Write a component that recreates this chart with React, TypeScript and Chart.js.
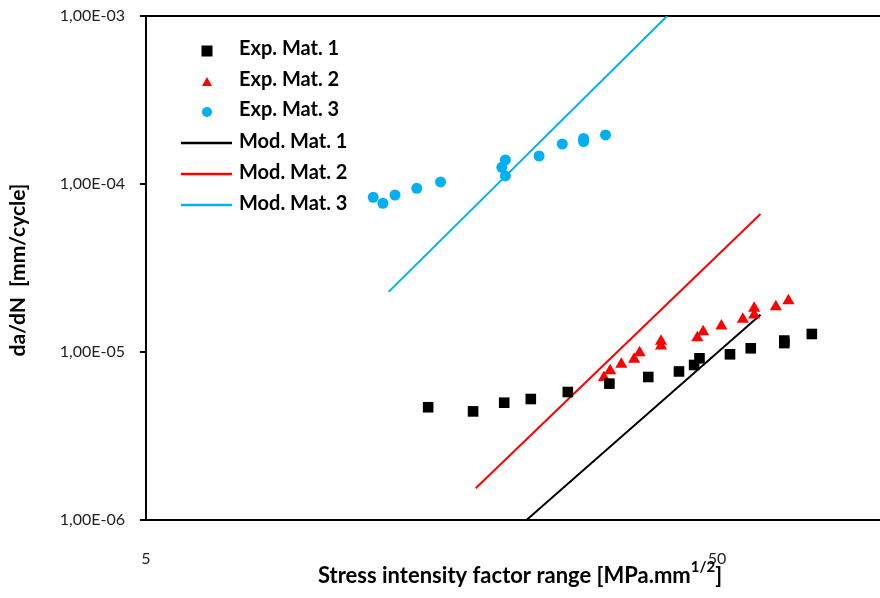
import React, { useEffect, useRef } from 'react';
import { Chart, registerables } from 'chart.js';

Chart.register(...registerables);

// ---- Data ----
const mat1X = [15.6, 18.7, 21.2, 23.6, 27.4, 32.4, 37.9, 42.9, 45.6, 46.6, 52.7, 57.3, 65.6, 65.6, 73.3];
const mat1Y = [4.69e-6, 4.43e-6, 4.99e-6, 5.25e-6, 5.78e-6, 6.48e-6, 7.1e-6, 7.66e-6, 8.37e-6, 9.17e-6, 9.69e-6, 1.052e-5, 1.13e-5, 1.17e-5, 1.28e-5];

const mat2X = [31.7, 32.5, 34.0, 35.8, 36.6, 39.9, 39.9, 46.2, 47.3, 50.9, 55.5, 58.1, 58.1, 63.4, 66.7];
const mat2Y = [7.05e-6, 7.74e-6, 8.45e-6, 9.05e-6, 9.9e-6, 1.086e-5, 1.158e-5, 1.216e-5, 1.32e-5, 1.428e-5, 1.566e-5, 1.66e-5, 1.82e-5, 1.86e-5, 2.02e-5];

const mat3X = [12.5, 13.0, 13.65, 14.9, 16.4, 21.0, 21.3, 21.3, 24.4, 26.8, 29.2, 29.2, 31.9];
const mat3Y = [8.33e-5, 7.68e-5, 8.6e-5, 9.43e-5, 1.028e-4, 1.257e-4, 1.39e-4, 1.117e-4, 1.468e-4, 1.73e-4, 1.866e-4, 1.79e-4, 1.96e-4];

const mod1X = [23.2, 59.6];
const mod1Y = [1.0e-6, 1.667e-5];
const mod2X = [18.9, 59.6];
const mod2Y = [1.545e-6, 6.63e-5];
const mod3X = [13.3, 40.9];
const mod3Y = [2.28e-5, 1.0e-3];

const seriesNames = ['Exp. Mat. 1', 'Exp. Mat. 2', 'Exp. Mat. 3', 'Mod. Mat. 1', 'Mod. Mat. 2', 'Mod. Mat. 3'];

const xTicks = [5, 50];
const xTickLabels = ['5', '50'];
const yTicks = [1e-6, 1e-5, 1e-4, 1e-3];
const yTickLabels = ['1,00E-06', '1,00E-05', '1,00E-04', '1,00E-03'];

const xMin = 5;
const xMax = 96.5;
const yMin = 1e-6;
const yMax = 1e-3;

const yTitle = 'da/dN  [mm/cycle]';
const xTitleMain = 'Stress intensity factor range [MPa.mm';
const xTitleSup = '1/2';
const xTitleEnd = ']';

const BLACK = '#000000';
const RED = '#FF0000';
const BLUE = '#00B0F0';
const FONT = 'Lato, "Open Sans", sans-serif';

const zip = (xs: number[], ys: number[]) => xs.map((x, i) => ({ x, y: ys[i] }));

const overlayPlugin = {
  id: 'overlay',
  afterDraw(chart: any) {
    const ctx: CanvasRenderingContext2D = chart.ctx;
    const area = chart.chartArea;
    ctx.save();
    ctx.fillStyle = '#000';

    // Y axis title
    ctx.save();
    ctx.translate(18, (area.top + area.bottom) / 2 + 2);
    ctx.rotate(-Math.PI / 2);
    ctx.font = `bold 21px ${FONT}`;
    ctx.textAlign = 'center';
    ctx.textBaseline = 'middle';
    ctx.fillText(yTitle, 0, 0);
    ctx.restore();

    // X axis title with superscript
    ctx.textAlign = 'left';
    ctx.textBaseline = 'alphabetic';
    ctx.font = `bold 22px ${FONT}`;
    const w1 = ctx.measureText(xTitleMain).width;
    const w3 = ctx.measureText(xTitleEnd).width;
    ctx.font = `bold 15px ${FONT}`;
    const w2 = ctx.measureText(xTitleSup).width;
    const cx = 520;
    const base = 583;
    let sx = cx - (w1 + w2 + w3) / 2;
    ctx.font = `bold 22px ${FONT}`;
    ctx.fillText(xTitleMain, sx, base);
    sx += w1;
    ctx.font = `bold 15px ${FONT}`;
    ctx.fillText(xTitleSup, sx, base - 11);
    sx += w2;
    ctx.font = `bold 22px ${FONT}`;
    ctx.fillText(xTitleEnd, sx, base);

    // Legend
    const rows = [49, 80, 110, 142, 173, 204];
    const markerX = 207;
    const textX = 239;
    ctx.font = `bold 20px ${FONT}`;
    ctx.textBaseline = 'middle';
    chart.data.datasets.forEach((ds: any, i: number) => {
      const y = rows[i];
      ctx.save();
      if (ds.showLine) {
        ctx.strokeStyle = ds.borderColor;
        ctx.lineWidth = 2.5;
        ctx.beginPath();
        ctx.moveTo(181, y + 1);
        ctx.lineTo(232, y + 1);
        ctx.stroke();
      } else {
        ctx.fillStyle = ds.backgroundColor;
        if (ds.pointStyle === 'rect') {
          ctx.fillRect(markerX - 5.5, y + 2 - 5.5, 11, 11);
        } else if (ds.pointStyle === 'triangle') {
          ctx.beginPath();
          ctx.moveTo(markerX, y + 2 - 5);
          ctx.lineTo(markerX + 5, y + 2 + 4);
          ctx.lineTo(markerX - 5, y + 2 + 4);
          ctx.closePath();
          ctx.fill();
        } else {
          ctx.beginPath();
          ctx.arc(markerX, y + 2, 5, 0, Math.PI * 2);
          ctx.fill();
        }
      }
      ctx.restore();
      ctx.fillStyle = '#000';
      ctx.fillText(ds.label, textX, y);
    });
    ctx.restore();
  },
};

const zeroPadding = (scale: any) => {
  scale.paddingTop = 0;
  scale.paddingBottom = 0;
  scale.paddingLeft = 0;
  scale.paddingRight = 0;
};

export default function App() {
  const canvasRef = useRef<HTMLCanvasElement | null>(null);

  useEffect(() => {
    if (!canvasRef.current) return;
    const chart = new Chart(canvasRef.current, {
      type: 'scatter',
      data: {
        datasets: [
          {
            label: seriesNames[0],
            data: zip(mat1X, mat1Y),
            pointStyle: 'rect',
            pointRadius: 7.5,
            backgroundColor: BLACK,
            borderColor: BLACK,
            borderWidth: 0,
            showLine: false,
          },
          {
            label: seriesNames[1],
            data: zip(mat2X, mat2Y),
            pointStyle: 'triangle',
            pointRadius: 7,
            backgroundColor: RED,
            borderColor: RED,
            borderWidth: 0,
            showLine: false,
          },
          {
            label: seriesNames[2],
            data: zip(mat3X, mat3Y),
            pointStyle: 'circle',
            pointRadius: 5.5,
            backgroundColor: BLUE,
            borderColor: BLUE,
            borderWidth: 0,
            showLine: false,
          },
          {
            label: seriesNames[3],
            data: zip(mod1X, mod1Y),
            showLine: true,
            pointRadius: 0,
            borderColor: BLACK,
            backgroundColor: BLACK,
            borderWidth: 2,
          },
          {
            label: seriesNames[4],
            data: zip(mod2X, mod2Y),
            showLine: true,
            pointRadius: 0,
            borderColor: RED,
            backgroundColor: RED,
            borderWidth: 2,
          },
          {
            label: seriesNames[5],
            data: zip(mod3X, mod3Y),
            showLine: true,
            pointRadius: 0,
            borderColor: BLUE,
            backgroundColor: BLUE,
            borderWidth: 2,
          },
        ],
      },
      options: {
        animation: false,
        responsive: false,
        maintainAspectRatio: false,
        layout: { autoPadding: false, padding: { top: 16, right: 0, left: 0, bottom: 0 } },
        plugins: {
          legend: { display: false },
          tooltip: { enabled: false },
          title: { display: false },
        },
        scales: {
          x: {
            type: 'logarithmic',
            min: xMin,
            max: xMax,
            afterBuildTicks: (scale: any) => {
              scale.ticks = xTicks.map((v) => ({ value: v }));
            },
            afterFit: (scale: any) => {
              scale.height = 78;
              zeroPadding(scale);
            },
            ticks: {
              autoSkip: false,
              maxRotation: 0,
              padding: 29,
              color: '#222',
              font: { family: FONT, size: 16 },
              callback: (_v: any, i: number) => xTickLabels[i],
            },
            grid: { display: true, color: 'rgba(0,0,0,0)', drawTicks: false },
            border: { display: true, color: BLACK, width: 2 },
          },
          y: {
            type: 'logarithmic',
            min: yMin,
            max: yMax,
            afterBuildTicks: (scale: any) => {
              scale.ticks = yTicks.map((v) => ({ value: v }));
            },
            afterFit: (scale: any) => {
              scale.width = 146;
              zeroPadding(scale);
            },
            ticks: {
              autoSkip: false,
              padding: 15,
              color: '#222',
              font: { family: FONT, size: 16 },
              callback: (_v: any, i: number) => yTickLabels[i],
            },
            grid: {
              display: true,
              drawOnChartArea: true,
              drawTicks: true,
              tickLength: 6,
              lineWidth: 2,
              tickColor: BLACK,
              color: (c: any) => (c.tick && Math.abs(c.tick.value - yMax) < 1e-12 ? BLACK : 'rgba(0,0,0,0)'),
            },
            border: { display: true, color: BLACK, width: 2 },
          },
        },
      } as any,
      plugins: [overlayPlugin],
    });
    return () => chart.destroy();
  }, []);

  return (
    <div style={{ position: 'absolute', left: 0, top: 0, width: 880, height: 598, background: '#fff' }}>
      <canvas ref={canvasRef} width={880} height={598} style={{ display: 'block' }} />
    </div>
  );
}
